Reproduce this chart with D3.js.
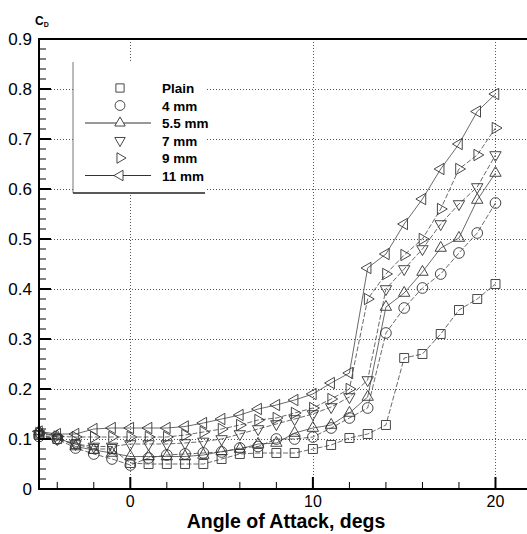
<!DOCTYPE html>
<html>
<head>
<meta charset="utf-8">
<script src="https://cdn.jsdelivr.net/npm/d3@7"></script>
<style>
  body { margin: 0; background: #fff; }
  svg { font-family: "Liberation Sans", Arial, Helvetica, sans-serif; }
</style>
</head>
<body>
<div id="chart"></div>
<script>
// angle of attack (degs) for every measured point
const aoa = [-5, -4, -3, -2, -1, 0, 1, 2, 3, 4, 5, 6, 7, 8, 9, 10, 11, 12, 13, 14, 15, 16, 17, 18, 19, 20];

// drag coefficient per configuration
const plain = [0.108, 0.100, 0.090, 0.080, 0.080, 0.052, 0.050, 0.050, 0.050, 0.050, 0.060, 0.070, 0.072, 0.072, 0.072, 0.080, 0.088, 0.102, 0.110, 0.128, 0.262, 0.270, 0.310, 0.358, 0.380, 0.410];
const mm4 = [0.105, 0.100, 0.082, 0.070, 0.060, 0.048, 0.062, 0.068, 0.070, 0.072, 0.074, 0.082, 0.085, 0.100, 0.100, 0.104, 0.122, 0.142, 0.162, 0.312, 0.362, 0.402, 0.430, 0.472, 0.512, 0.572];
const mm55 = [0.115, 0.105, 0.085, 0.078, 0.072, 0.065, 0.065, 0.065, 0.065, 0.068, 0.075, 0.080, 0.090, 0.092, 0.112, 0.122, 0.128, 0.152, 0.184, 0.364, 0.392, 0.434, 0.482, 0.502, 0.578, 0.632];
const mm7 = [0.110, 0.100, 0.090, 0.085, 0.085, 0.090, 0.090, 0.090, 0.092, 0.095, 0.100, 0.110, 0.120, 0.130, 0.140, 0.150, 0.164, 0.184, 0.218, 0.400, 0.440, 0.480, 0.530, 0.570, 0.604, 0.668];
const mm9 = [0.112, 0.105, 0.104, 0.104, 0.104, 0.104, 0.104, 0.104, 0.108, 0.114, 0.120, 0.128, 0.138, 0.142, 0.152, 0.162, 0.180, 0.200, 0.380, 0.430, 0.468, 0.500, 0.560, 0.640, 0.668, 0.722];
const mm11 = [0.115, 0.110, 0.110, 0.120, 0.122, 0.122, 0.122, 0.122, 0.125, 0.132, 0.140, 0.148, 0.160, 0.168, 0.178, 0.190, 0.212, 0.232, 0.442, 0.470, 0.530, 0.580, 0.640, 0.690, 0.755, 0.790];

const seriesNames = ["Plain", "4 mm", "5.5 mm", "7 mm", "9 mm", "11 mm"];
const xMajorTicks = [0, 10, 20];
const xMinorTicks = [-4, -2, 2, 4, 6, 8, 12, 14, 16, 18];
const yMajorTicks = [0, 0.1, 0.2, 0.3, 0.4, 0.5, 0.6, 0.7, 0.8, 0.9];

const width = 527, height = 534;
const plot = { left: 39, top: 39, right: 532, bottom: 489 };

const svg = d3.select("#chart").append("svg")
  .attr("width", width)
  .attr("height", height);

const x = d3.scaleLinear().domain([-5, 22]).range([plot.left, plot.right]);
const y = d3.scaleLinear().domain([0, 0.9]).range([plot.bottom, plot.top]);

// marker shape + rotation for each series, legend solid line or not
const styles = [
  { sym: d3.symbolSquare, size: 80, rot: 0, solid: false },
  { sym: d3.symbolCircle, size: 90, rot: 0, solid: false },
  { sym: d3.symbolTriangle, size: 56, rot: 0, solid: true },
  { sym: d3.symbolTriangle, size: 56, rot: 180, solid: false },
  { sym: d3.symbolTriangle, size: 56, rot: 90, solid: false },
  { sym: d3.symbolTriangle, size: 56, rot: -90, solid: true },
];
const allValues = [plain, mm4, mm55, mm7, mm9, mm11];
const series = seriesNames.map((name, i) => ({
  name: name,
  style: styles[i],
  points: aoa.map((a, j) => ({ a: a, cd: allValues[i][j] })),
}));

// dotted grid
const grid = svg.append("g").attr("class", "grid")
  .attr("stroke", "#555").attr("stroke-width", 1).attr("stroke-dasharray", "1,2");
grid.selectAll(".hgrid")
  .data(yMajorTicks.filter(v => v > 0 && v < 0.9))
  .join("line")
  .attr("x1", plot.left).attr("x2", width)
  .attr("y1", d => Math.round(y(d)) + 0.5).attr("y2", d => Math.round(y(d)) + 0.5);
grid.selectAll(".vgrid")
  .data(xMajorTicks)
  .join("line")
  .attr("x1", d => Math.round(x(d)) + 0.5).attr("x2", d => Math.round(x(d)) + 0.5)
  .attr("y1", plot.top).attr("y2", plot.bottom);

// data lines and markers
const line = d3.line().x(d => x(d.a)).y(d => y(d.cd));
const gData = svg.append("g");
gData.selectAll(".series-line")
  .data(series)
  .join("path")
  .attr("class", "series-line")
  .attr("d", d => line(d.points))
  .attr("fill", "none")
  .attr("stroke", "#444")
  .attr("stroke-width", 0.8)
  .attr("stroke-dasharray", d => d.style.solid ? null : "5,2");

series.forEach(s => {
  const shape = d3.symbol().type(s.style.sym).size(s.style.size);
  gData.append("g").selectAll("path")
    .data(s.points)
    .join("path")
    .attr("d", shape)
    .attr("transform", d => `translate(${x(d.a)},${y(d.cd)}) rotate(${s.style.rot})`)
    .attr("fill", "none")
    .attr("stroke", "#333")
    .attr("stroke-width", 0.9);
});

// frame: left, bottom and top lines
const frame = svg.append("g").attr("stroke", "#000").attr("stroke-width", 2);
frame.append("line").attr("x1", plot.left).attr("x2", plot.left).attr("y1", plot.top - 1).attr("y2", plot.bottom + 1);
frame.append("line").attr("x1", plot.left).attr("x2", width).attr("y1", plot.bottom).attr("y2", plot.bottom);
frame.append("line").attr("x1", plot.left).attr("x2", width).attr("y1", plot.top).attr("y2", plot.top);

// y ticks (inside) with minor ticks every 0.02
const yMinor = d3.range(0, 0.9001, 0.02).filter(v => Math.abs(v * 10 - Math.round(v * 10)) > 1e-6);
svg.append("g").selectAll("line")
  .data(yMinor)
  .join("line")
  .attr("x1", plot.left).attr("x2", plot.left + 7)
  .attr("y1", d => y(d)).attr("y2", d => y(d))
  .attr("stroke", "#000").attr("stroke-width", 1);
svg.append("g").selectAll("line")
  .data(yMajorTicks)
  .join("line")
  .attr("x1", plot.left).attr("x2", plot.left + 12)
  .attr("y1", d => y(d)).attr("y2", d => y(d))
  .attr("stroke", "#000").attr("stroke-width", 2);
svg.append("g").selectAll("text")
  .data(yMajorTicks)
  .join("text")
  .attr("x", 32)
  .attr("y", d => y(d) + 6)
  .attr("text-anchor", "end")
  .style("font-size", "17px")
  .text(d => d === 0 ? "0" : d3.format(".1f")(d));

// x ticks (inside)
svg.append("g").selectAll("line")
  .data(xMinorTicks)
  .join("line")
  .attr("x1", d => x(d)).attr("x2", d => x(d))
  .attr("y1", plot.bottom).attr("y2", plot.bottom - 7)
  .attr("stroke", "#000").attr("stroke-width", 1);
svg.append("g").selectAll("line")
  .data(xMajorTicks)
  .join("line")
  .attr("x1", d => x(d)).attr("x2", d => x(d))
  .attr("y1", plot.bottom).attr("y2", plot.bottom - 12)
  .attr("stroke", "#000").attr("stroke-width", 2);
svg.append("g").selectAll("text")
  .data(xMajorTicks)
  .join("text")
  .attr("x", d => x(d))
  .attr("y", 507)
  .attr("text-anchor", "middle")
  .style("font-size", "16px")
  .text(d => d);

// axis titles
svg.append("text")
  .attr("x", 286).attr("y", 528)
  .attr("text-anchor", "middle")
  .style("font-size", "19.5px").style("font-weight", "bold")
  .text("Angle of Attack, degs");
const cd = svg.append("text").attr("x", 35).attr("y", 25)
  .style("font-size", "12px").style("font-weight", "bold");
cd.append("tspan").text("C");
cd.append("tspan").attr("dy", 2).style("font-size", "7px").text("D");

// legend
const lg = { left: 73, top: 62, right: 205, bottom: 193, row0: 88, step: 17.5 };
const legend = svg.append("g");
legend.append("rect")
  .attr("x", lg.left).attr("y", lg.top)
  .attr("width", lg.right - lg.left).attr("height", lg.bottom - lg.top)
  .attr("fill", "#fff");
legend.append("line").attr("x1", lg.left).attr("x2", lg.left).attr("y1", lg.top).attr("y2", lg.bottom)
  .attr("stroke", "#777").attr("stroke-width", 1);
legend.append("line").attr("x1", lg.left).attr("x2", lg.right).attr("y1", lg.bottom).attr("y2", lg.bottom)
  .attr("stroke", "#222").attr("stroke-width", 1.5);
const rows = legend.selectAll(".row")
  .data(series)
  .join("g")
  .attr("transform", (d, i) => `translate(0,${lg.row0 + i * lg.step})`);
rows.filter(d => d.style.solid).append("line")
  .attr("x1", 85).attr("x2", 151)
  .attr("stroke", "#333").attr("stroke-width", 1);
rows.append("path")
  .attr("d", d => d3.symbol().type(d.style.sym).size(d.style.size * 0.85)())
  .attr("transform", d => `translate(120,0) rotate(${d.style.rot})`)
  .attr("fill", "#fff")
  .attr("stroke", "#333")
  .attr("stroke-width", 0.9);
rows.append("text")
  .attr("x", 162).attr("y", 5)
  .style("font-size", "13.5px").style("font-weight", "bold")
  .text(d => d.name);
</script>
</body>
</html>
